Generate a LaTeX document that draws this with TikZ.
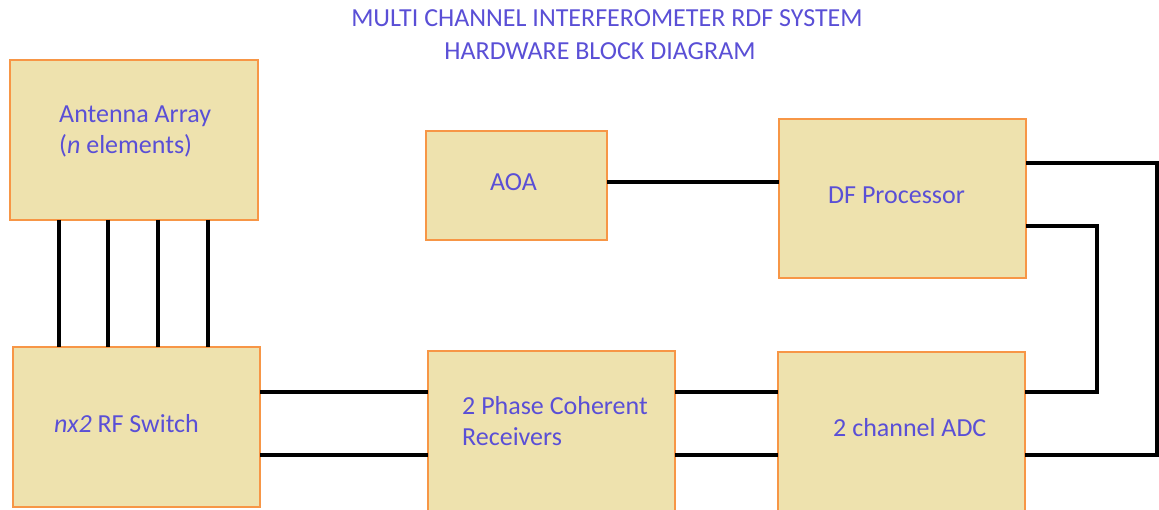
\documentclass[tikz,border=0pt]{standalone}
\usepackage{fontspec}
\setmainfont{Carlito}
\definecolor{boxfill}{HTML}{EEE2AE}
\definecolor{boxline}{HTML}{F79646}
\definecolor{txt}{HTML}{5A4FD6}
\begin{document}
\begin{tikzpicture}[x=1pt,y=-1pt,
  box/.style={draw=boxline, line width=1.3pt, fill=boxfill, anchor=north west, inner sep=0pt, outer sep=0pt},
  lbl/.style={text=txt, font=\fontsize{26}{31}\selectfont, anchor=west, inner sep=0pt, align=left},
  conn/.style={line width=3.4pt, black}]
\useasboundingbox (0,0) rectangle (1159,510);
% title
\node[text=txt, font=\fontsize{26}{33}\selectfont, align=center, inner sep=0pt] (title) at (607,35) {MULTI CHANNEL INTERFEROMETER RDF SYSTEM\\HARDWARE BLOCK DIAGRAM\hspace*{14pt}};
% boxes
\node[box, minimum width=248pt, minimum height=160pt] (ant) at (10,60) {};
\node[box, minimum width=247pt, minimum height=160pt] (sw) at (13,347) {};
\node[box, minimum width=181pt, minimum height=109pt] (aoa) at (426,131) {};
\node[box, minimum width=247pt, minimum height=159pt] (df) at (779,119) {};
\node[box, minimum width=247pt, minimum height=162pt] (rx) at (428,351) {};
\node[box, minimum width=247pt, minimum height=161pt] (adc) at (778,352) {};
% labels
\node[lbl] (antl) at (59,131) {Antenna Array\\(\textit{n} elements)};
\node[lbl] (swl) at (54,424) {\textit{nx2} RF Switch};
\node[lbl] (aoal) at (490,182) {AOA};
\node[lbl] (dfl) at (828,195) {DF Processor};
\node[lbl] (rxl) at (462,421) {2 Phase Coherent\\Receivers};
\node[lbl] (adcl) at (833,428) {2 channel ADC};
% connectors
\foreach \x in {59,108,158,208}
  \draw[conn] (\x,0 |- ant.south) -- (\x,0 |- sw.north);
\draw[conn] (sw.east |- 0,392) -- (rx.west |- 0,392);
\draw[conn] (sw.east |- 0,455) -- (rx.west |- 0,455);
\draw[conn] (rx.east |- 0,392) -- (adc.west |- 0,392);
\draw[conn] (rx.east |- 0,455) -- (adc.west |- 0,455);
\draw[conn] (aoa.east |- 0,182) -- (df.west |- 0,182);
\draw[conn] (df.east |- 0,163) -| (1157,455) -- (adc.east |- 0,455);
\draw[conn] (df.east |- 0,226) -| (1097,392) -- (adc.east |- 0,392);
\end{tikzpicture}
\end{document}
